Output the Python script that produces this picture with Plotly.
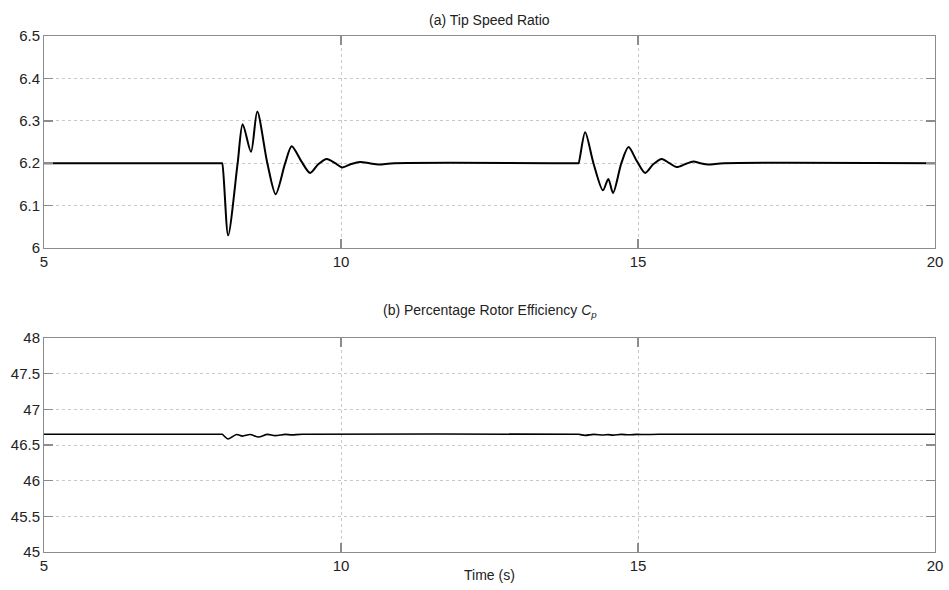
import plotly.graph_objects as go

# ---- data ----
t_tsr = [5.0, 7.99, 8.0, 8.10, 8.26, 8.345, 8.485, 8.59, 8.76, 8.90, 9.06, 9.17,
         9.33, 9.48, 9.62, 9.76, 9.90, 10.02, 10.17, 10.32, 10.48, 10.63, 10.9,
         13.99, 14.0, 14.11, 14.25, 14.41, 14.50, 14.58, 14.72, 14.84, 14.98, 15.12,
         15.26, 15.40, 15.53, 15.65, 15.80, 15.93, 16.05, 16.18, 16.45, 20.0]
tsr = [6.200, 6.200, 6.200, 6.030, 6.200, 6.292, 6.227, 6.322, 6.200, 6.127, 6.200, 6.240,
       6.205, 6.177, 6.198, 6.210, 6.200, 6.190, 6.198, 6.203, 6.200, 6.197, 6.200,
       6.200, 6.200, 6.273, 6.200, 6.136, 6.163, 6.130, 6.200, 6.238, 6.205, 6.177,
       6.198, 6.210, 6.200, 6.191, 6.198, 6.204, 6.200, 6.197, 6.200, 6.200]

t_cp = [5.0, 7.99, 8.0, 8.10, 8.24, 8.34, 8.47, 8.61, 8.76, 8.89, 9.06, 9.17, 9.35,
        13.99, 14.0, 14.11, 14.25, 14.41, 14.50, 14.58, 14.72, 14.84, 14.98, 15.12, 15.35, 20.0]
cp = [46.650, 46.650, 46.650, 46.585, 46.648, 46.625, 46.647, 46.612, 46.649, 46.632, 46.649, 46.642, 46.650,
      46.650, 46.650, 46.635, 46.649, 46.640, 46.645, 46.638, 46.649, 46.643, 46.649, 46.647, 46.650, 46.650]

x_ticks = [5, 10, 15, 20]
x_ticklabels = ["5", "10", "15", "20"]
tsr_ticks = [6.0, 6.1, 6.2, 6.3, 6.4, 6.5]
tsr_ticklabels = ["6", "6.1", "6.2", "6.3", "6.4", "6.5"]
cp_ticks = [45, 45.5, 46, 46.5, 47, 47.5, 48]
cp_ticklabels = ["45", "45.5", "46", "46.5", "47", "47.5", "48"]

title_a = "(a) Tip Speed Ratio"
title_b = "(b) Percentage Rotor Efficiency <i>C<sub>p</sub></i>"
xlabel = "Time (s)"

FONT = "Liberation Sans, Arial, sans-serif"

W, H_FIG = 949, 590
plot_left, plot_right, plot_top, plot_bot = 44, 935, 36, 552   # page pixels

fig = go.Figure()
fig.add_trace(go.Scatter(x=t_tsr, y=tsr, mode="lines",
                         line=dict(color="black", width=2, shape="spline", smoothing=0.8),
                         xaxis="x", yaxis="y", showlegend=False, hoverinfo="skip"))
fig.add_trace(go.Scatter(x=t_cp, y=cp, mode="lines",
                         line=dict(color="black", width=1.6, shape="spline", smoothing=0.8),
                         xaxis="x2", yaxis="y2", showlegend=False, hoverinfo="skip"))

axis_common = dict(showline=True, linecolor="#8c8c8c", linewidth=1, mirror="ticks",
                   ticks="inside", ticklen=9, tickcolor="#8c8c8c", tickwidth=1.5,
                   showgrid=True, gridcolor="#c8c8c8", griddash="dot", gridwidth=1,
                   zeroline=False, automargin=False, ticklabeloverflow="allow",
                   tickfont=dict(family=FONT, size=15, color="#222"))

PH = plot_bot - plot_top
def py(pix):
    return (plot_bot - pix) / PH

fig.update_layout(
    width=W, height=H_FIG,
    margin=dict(l=plot_left, r=W - plot_right, t=plot_top, b=H_FIG - plot_bot,
                autoexpand=False),
    paper_bgcolor="white", plot_bgcolor="white",
    xaxis=dict(domain=[0, 1], range=[5, 20], tickvals=x_ticks, ticktext=x_ticklabels,
               anchor="y", **axis_common),
    yaxis=dict(domain=[py(248), 1], range=[6.0, 6.5], tickvals=tsr_ticks,
               ticktext=tsr_ticklabels, anchor="x", **axis_common),
    xaxis2=dict(domain=[0, 1], range=[5, 20], tickvals=x_ticks, ticktext=x_ticklabels,
                anchor="y2", **axis_common),
    yaxis2=dict(domain=[0, py(338)], range=[45, 48], tickvals=cp_ticks,
                ticktext=cp_ticklabels, anchor="x2", **axis_common),
    annotations=[
        dict(text=title_a, x=0.5, y=py(20), xref="paper", yref="paper", showarrow=False,
             xanchor="center", yanchor="middle",
             font=dict(family=FONT, size=14, color="#222")),
        dict(text=title_b, x=0.5, y=py(311), xref="paper", yref="paper", showarrow=False,
             xanchor="center", yanchor="middle",
             font=dict(family=FONT, size=14, color="#222")),
        dict(text=xlabel, x=0.5, y=py(575), xref="paper", yref="paper", showarrow=False,
             xanchor="center", yanchor="middle",
             font=dict(family=FONT, size=14, color="#222")),
    ],
)

# remove the browser's default 8px body margin so the figure sits at (0, 0)
fig.write_html("out.html",
               config={"displayModeBar": False, "staticPlot": True},
               post_script="document.body.style.margin='0';document.body.style.overflow='hidden';")
